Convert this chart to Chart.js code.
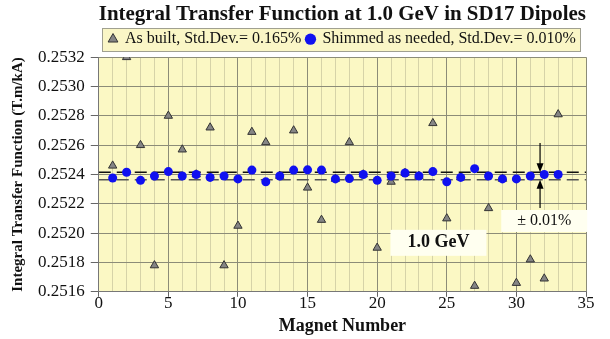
<!DOCTYPE html>
<html lang="en">
<head>
  <meta charset="UTF-8">
  <title>SD17 Dipoles</title>
  <script src="https://cdn.jsdelivr.net/npm/chart.js"></script>
  <style>
    html, body { margin: 0; padding: 0; background: white; }
    .container-chart { width: 610px; height: 339px; }
  </style>
</head>
<body>
  <div class="container-chart">
    <canvas id="myChart"></canvas>
  </div>

<script>
  // magnet numbers 1..33
  const magnets = [1,2,3,4,5,6,7,8,9,10,11,12,13,14,15,16,17,18,19,20,21,22,23,24,25,26,27,28,29,30,31,32,33];

  const as_built = [0.25246, 0.25320, 0.25260, 0.25178, 0.25280, 0.25257, 0.25240, 0.25272, 0.25178, 0.25205,
                    0.25269, 0.25262, 0.25239, 0.25270, 0.25231, 0.25209, 0.25237, 0.25262, 0.25240, 0.25190,
                    0.25235, 0.25241, 0.25239, 0.25275, 0.25210, 0.25238, 0.25164, 0.25217, 0.25237, 0.25166,
                    0.25182, 0.25169, 0.25281];

  const shimmed = [0.252376, 0.252415, 0.252360, 0.252390, 0.252420, 0.252390, 0.252400, 0.252380, 0.252390, 0.252370,
                   0.252430, 0.252350, 0.252390, 0.252430, 0.252432, 0.252430, 0.252370, 0.252372, 0.252400, 0.252360,
                   0.252390, 0.252410, 0.252390, 0.252420, 0.252350, 0.252380, 0.252440, 0.252390, 0.252370, 0.252370,
                   0.252390, 0.252400, 0.252400];

  const band_upper = 0.252415;
  const band_lower = 0.252365;
  const x_range = [0, 35];
  const y_ticks = [0.2516, 0.2518, 0.2520, 0.2522, 0.2524, 0.2526, 0.2528, 0.2530, 0.2532];

  const serif = "'Liberation Serif', 'Times New Roman', serif";

  const bgPlugin = {
    id: 'bg',
    beforeDraw(chart) {
      const c = chart.ctx, a = chart.chartArea;
      c.save();
      c.fillStyle = '#fbf8c4';
      c.fillRect(a.left, a.top, a.right - a.left, a.bottom - a.top);
      // legend box round the items only
      const hb = chart.legend.legendHitBoxes;
      if (hb && hb.length) {
        const l = Math.min(...hb.map(h => h.left)) - 7;
        const r = Math.max(...hb.map(h => h.left + h.width)) + 4;
        const t = Math.min(...hb.map(h => h.top)) - 3;
        const b = Math.max(...hb.map(h => h.top + h.height)) + 4;
        c.fillStyle = '#faf6c6';
        c.strokeStyle = '#a0a090';
        c.lineWidth = 1;
        c.fillRect(Math.round(l) + 0.5, Math.round(t) + 0.5, Math.round(r - l), Math.round(b - t));
        c.strokeRect(Math.round(l) + 0.5, Math.round(t) + 0.5, Math.round(r - l), Math.round(b - t));
      }
      c.restore();
    },
    afterDatasetsDraw(chart) {
      const c = chart.ctx, xs = chart.scales.x, ys = chart.scales.y;
      c.save();
      function label(txt, xv, yv, font, bw, bh) {
        const px = xs.getPixelForValue(xv), py = ys.getPixelForValue(yv);
        c.fillStyle = '#fffff0';
        c.fillRect(px - bw / 2, py - bh / 2, bw, bh);
        c.fillStyle = '#111';
        c.font = font;
        c.textAlign = 'center';
        c.textBaseline = 'middle';
        c.fillText(txt, px, py);
      }
      label('1.0 GeV', 24.4, 0.251934, 'bold 18px ' + serif, 96, 26);
      label('\u00b1 0.01%', 32.0, 0.252083, '16px ' + serif, 86, 22);

      function arrow(xv, y0, y1) {
        const px = xs.getPixelForValue(xv);
        const p0 = ys.getPixelForValue(y0), p1 = ys.getPixelForValue(y1);
        const dir = p1 > p0 ? 1 : -1;
        c.strokeStyle = '#000';
        c.fillStyle = '#000';
        c.lineWidth = 1.2;
        c.beginPath();
        c.moveTo(px, p0);
        c.lineTo(px, p1 - dir * 6);
        c.stroke();
        c.beginPath();
        c.moveTo(px, p1);
        c.lineTo(px - 3.5, p1 - dir * 9);
        c.lineTo(px + 3.5, p1 - dir * 9);
        c.closePath();
        c.fill();
      }
      arrow(31.7, 0.252614, band_upper);
      arrow(31.7, 0.252172, band_lower);
      c.restore();
    }
  };

  const ctx = document.getElementById('myChart');

  new Chart(ctx, {
    type: 'scatter',
    data: {
      datasets: [{
        label: 'As built, Std.Dev.= 0.165%',
        data: magnets.map((m, i) => ({ x: m, y: as_built[i] })),
        pointStyle: 'triangle',
        pointRadius: 4.8,
        backgroundColor: '#858585',
        borderColor: '#333',
        borderWidth: 1,
        order: 3
      }, {
        label: 'Shimmed as needed, Std.Dev.= 0.010%',
        data: magnets.map((m, i) => ({ x: m, y: shimmed[i] })),
        pointStyle: 'circle',
        pointRadius: 4.5,
        backgroundColor: '#1010f0',
        borderColor: '#1010f0',
        borderWidth: 0,
        order: 0
      }, {
        label: 'upper',
        type: 'line',
        data: x_range.map(x => ({ x: x, y: band_upper })),
        borderColor: '#111',
        borderWidth: 1.5,
        borderDash: [12, 6],
        pointRadius: 0,
        order: 1
      }, {
        label: 'lower',
        type: 'line',
        data: x_range.map(x => ({ x: x, y: band_lower })),
        borderColor: '#555',
        borderWidth: 1.5,
        borderDash: [12, 6],
        pointRadius: 0,
        order: 1
      }]
    },
    options: {
      responsive: true,
      maintainAspectRatio: false,
      animation: false,
      layout: { padding: { left: 9, right: 24, top: 2, bottom: 3 } },
      plugins: {
        tooltip: { enabled: false },
        title: {
          display: true,
          fullSize: false,
          text: 'Integral Transfer Function at 1.0 GeV in SD17 Dipoles',
          color: '#111',
          font: { family: serif, size: 22, weight: 'bold', lineHeight: 1.1 },
          padding: { top: 0, bottom: 0 }
        },
        legend: {
          fullSize: false,
          labels: {
            usePointStyle: true,
            boxWidth: 8,
            boxHeight: 8,
            padding: 5,
            color: '#111',
            font: { family: serif, size: 16, lineHeight: 1 },
            filter: item => item.datasetIndex < 2,
            sort: (a, b) => a.datasetIndex - b.datasetIndex
          }
        }
      },
      scales: {
        x: {
          type: 'linear',
          min: 0,
          max: 35,
          afterBuildTicks: axis => {
            axis.ticks = [];
            for (let v = 0; v <= 35; v++) axis.ticks.push({ value: v });
          },
          ticks: {
            autoSkip: false,
            maxRotation: 0,
            color: '#111',
            font: { family: serif, size: 17 },
            padding: -3,
            callback: v => (v % 5 === 0 ? v : '')
          },
          grid: {
            color: c => (c.tick && c.tick.value % 5 === 0 ? '#8c8c78' : '#d6d3a8'),
            tickColor: c => (c.tick && c.tick.value % 5 === 0 ? '#666' : 'rgba(0,0,0,0)'),
            tickLength: 5
          },
          border: { color: '#777' },
          title: {
            display: true,
            text: 'Magnet Number',
            color: '#111',
            font: { family: serif, size: 18, weight: 'bold', lineHeight: 1.1 },
            padding: { top: 5, bottom: 0 }
          }
        },
        y: {
          min: 0.2516,
          max: 0.2532,
          afterBuildTicks: axis => {
            axis.ticks = y_ticks.map(v => ({ value: v }));
          },
          ticks: {
            color: '#111',
            font: { family: serif, size: 17 },
            padding: 6,
            callback: v => v.toFixed(4)
          },
          grid: {
            color: '#8c8c78',
            tickColor: '#666',
            tickLength: 8
          },
          border: { color: '#777' },
          title: {
            display: true,
            text: 'Integral Transfer Function (T.m/kA)',
            color: '#111',
            font: { family: serif, size: 15, weight: 'bold' },
            padding: { top: 0, bottom: 5 }
          }
        }
      }
    },
    plugins: [bgPlugin]
  });
</script>
</body>
</html>
